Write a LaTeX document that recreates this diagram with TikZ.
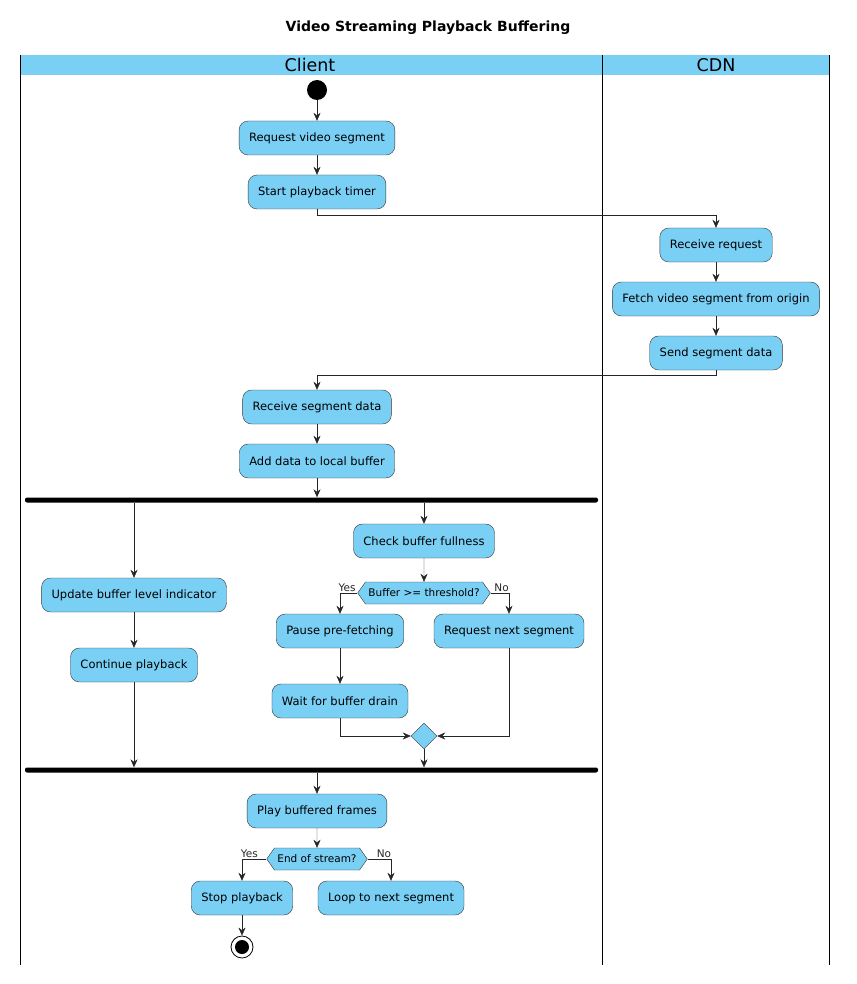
\documentclass[tikz,border=0pt]{standalone}
\usepackage{fontspec}
\setmainfont{DejaVu Sans}
\usetikzlibrary{shapes.geometric,shapes.symbols,arrows.meta}
\definecolor{lane}{HTML}{7ACFF5}
\tikzset{
  act/.style={draw=black!80, fill=lane, rounded corners=9pt, minimum height=34pt, inner xsep=10pt, font=\fontsize{11.5}{13}\selectfont},
  dec/.style={draw=black!80, fill=lane, shape=signal, signal to=west and east, signal pointer angle=110, minimum height=22pt, inner xsep=3pt, inner ysep=1pt, font=\fontsize{10.5}{12}\selectfont},
  bar/.style={fill=black, rounded corners=2pt, minimum width=573pt, minimum height=5pt, inner sep=0pt},
  flow/.style={-{Stealth[length=8pt,width=7pt]}, black!85},
  lbl/.style={font=\fontsize{10.5}{12}\selectfont, inner sep=1pt}
}
\begin{document}
\begin{tikzpicture}[x=1pt,y=-1pt]
\useasboundingbox (0,0) rectangle (856,984);
% title and lanes
\node[font=\bfseries\fontsize{14}{16}\selectfont] (title) at (428,28) {Video Streaming Playback Buffering};
\fill[lane] (20,55) rectangle (829,75);
\draw[thick] (20,55) -- (20,965) (602,55) -- (602,965) (829,55) -- (829,965);
\node[font=\fontsize{17.5}{19}\selectfont] (client) at (310,65) {Client};
\node[font=\fontsize{17.5}{19}\selectfont] (cdn) at (716,65) {CDN};
% client start
\node[circle, fill=black, minimum size=20pt, inner sep=0pt] (start) at (317,90) {};
\node[act] (req) at (317,138) {Request video segment};
\node[act] (timer) at (317,192) {Start playback timer};
% CDN
\node[act] (recv) at (716,245) {Receive request};
\node[act] (fetch) at (716,299) {Fetch video segment from origin};
\node[act] (send) at (716,353) {Send segment data};
% back to client
\node[act] (rdata) at (317,407) {Receive segment data};
\node[act] (add) at (317,461) {Add data to local buffer};
\node[bar] (fork) at (311.5,500) {};
% left branch
\node[act] (upd) at (134,595) {Update buffer level indicator};
\node[act] (cont) at (134,665) {Continue playback};
% right branch
\node[act] (check) at (424,541) {Check buffer fullness};
\node[dec] (full) at (424,593) {Buffer >= threshold?};
\node[act] (pause) at (340,631) {Pause pre-fetching};
\node[act] (wait) at (340,701) {Wait for buffer drain};
\node[act] (next) at (509,631) {Request next segment};
\node[draw=black!80, fill=lane, shape=diamond, minimum size=26pt, inner sep=0pt] (merge) at (424,736) {};
\node[bar] (join) at (311.5,770) {};
% end part
\node[act] (play) at (317,811) {Play buffered frames};
\node[dec] (eos) at (317,859) {End of stream?};
\node[act] (stop) at (242,898) {Stop playback};
\node[act] (loop) at (391,898) {Loop to next segment};
\node[circle, draw=black, thick, minimum size=22pt, inner sep=0pt] (fin) at (242,947) {};
\fill (fin) circle (7pt);
% flows
\draw[flow] (start) -- (req);
\draw[flow] (req) -- (timer);
\draw[flow] (timer.south) -- ++(0,6) -| (recv.north);
\draw[flow] (recv) -- (fetch);
\draw[flow] (fetch) -- (send);
\draw[flow] (send.south) -- ++(0,5) -| (rdata.north);
\draw[flow] (rdata) -- (add);
\draw[flow] (add) -- (fork.north -| add);
\draw[flow] (fork.south -| upd) -- (upd);
\draw[flow] (upd) -- (cont);
\draw[flow] (cont) -- (join.north -| cont);
\draw[flow] (fork.south -| check) -- (check);
\draw[flow] (check) -- (full);
\draw[flow] (full.west) -| node[lbl, pos=0.3, above] {Yes} (pause.north);
\draw[flow] (full.east) -| node[lbl, pos=0.3, above] {No} (next.north);
\draw[flow] (pause) -- (wait);
\draw[flow] (wait.south) |- (merge.west);
\draw[flow] (next.south) |- (merge.east);
\draw[flow] (merge) -- (join.north -| merge);
\draw[flow] (join.south -| play) -- (play);
\draw[flow] (play) -- (eos);
\draw[flow] (eos.west) -| node[lbl, pos=0.35, above] {Yes} (stop.north);
\draw[flow] (eos.east) -| node[lbl, pos=0.35, above] {No} (loop.north);
\draw[flow] (stop) -- (fin);
\end{tikzpicture}
\end{document}
